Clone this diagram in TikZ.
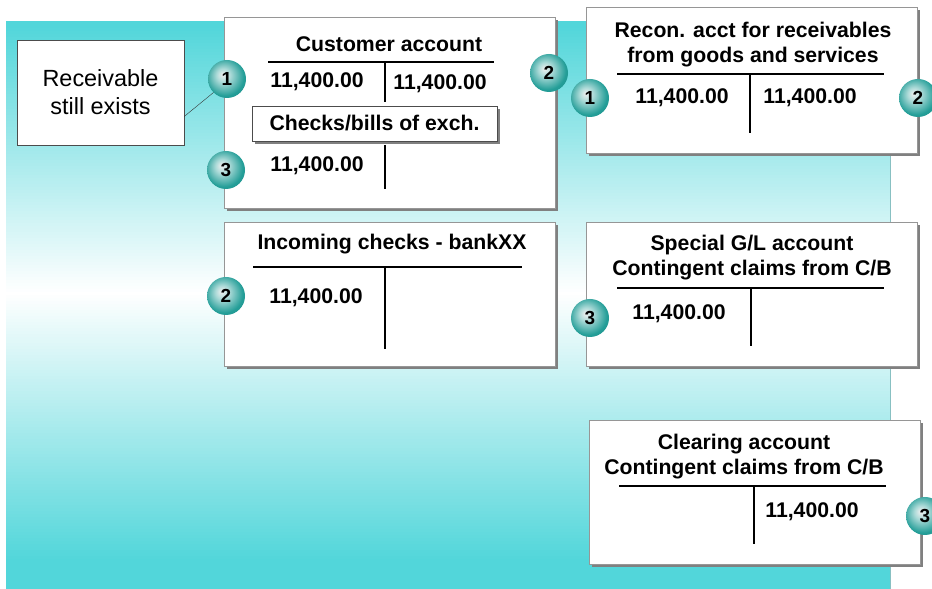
\documentclass[tikz,border=0pt]{standalone}
\usepackage{fontspec}
\setmainfont{Liberation Sans}
\usepackage{tikz}
\usetikzlibrary{shadows,               % ombres des comptes
           calc,                       % calculs de coordonnees
           positioning}
\definecolor{fondbleu}{RGB}{82,214,218}
\definecolor{billebleu}{RGB}{36,158,152}
\definecolor{bordgris}{RGB}{150,150,150}
\pgfdeclareradialshading{bille}{\pgfpoint{-6bp}{6bp}}{color(0bp)=(white!88!gray);
  color(9bp)=(white!62!billebleu);color(25bp)=(billebleu);color(40bp)=(billebleu!85!black);
  color(50bp)=(billebleu!65!black)}

\begin{document}
\begin{tikzpicture}[x=1bp,y=1bp,
  compte/.style={draw=bordgris,fill=white,anchor=north west,minimum width=331bp,
    drop shadow={shadow xshift=3bp,shadow yshift=-3bp,fill=black!50,opacity=1}},
  titre/.style={font=\fontsize{21.3}{25}\selectfont\bfseries,align=center},
  montant/.style={font=\fontsize{21.3}{25}\selectfont\bfseries},
  bille/.style={circle,minimum size=38bp,inner sep=0pt,shading=bille,
    font=\fontsize{19}{20}\selectfont\bfseries},
  trait/.style={line width=1.6bp}]
\useasboundingbox(0,0)rectangle(932,589);
% fond degrade, par bandes
\foreach \k in {0,...,188}{
  \pgfmathsetmacro\p{min(100,abs(3*\k+1.5-296)/2.67)}
  \fill[fondbleu!\p!white](6,3*\k)rectangle(890,3*\k+3.6);}
\draw[fondbleu!70!black!60](890,0)--(890,567);
% remarque
\node[draw=black!70,fill=white,minimum width=167bp,minimum height=105bp,align=center,
  font=\fontsize{23.5}{28}\selectfont](recv)at(100.5,496.5){Receivable\\still exists};
% comptes
\node[compte,minimum height=191bp](cust)at(224,572){};
\node[compte,minimum height=146bp](recon)at(586,582){};
\node[compte,minimum height=144bp](inc)at(224,367){};
\node[compte,minimum height=144bp](spec)at(586,367){};
\node[compte,minimum height=144bp](clear)at(589,169){};
% compte client
\node[titre](custT)at(389,545){Customer account};
\draw[trait](268,527)--(494,527)(385,527)--(385,487)(385,444)--(385,400);
\node[montant](custA)at(317,507){11,400.00};
\node[montant](custB)at(440,505){11,400.00};
\node[draw=black!70,fill=white,minimum width=245bp,minimum height=35bp,titre,
  drop shadow={shadow xshift=3bp,shadow yshift=-3bp,fill=black!50,opacity=1}]
  (cheq)at(374.5,465.5){Checks/bills of exch.};
\node[montant](custC)at(317,423){11,400.00};
% compte collectif
\node[titre](reconT)at(753,544.5){Recon. acct for receivables\\from goods and services};
\draw[trait](617,515)--(884,515)(750,515)--(750,456);
\node[montant](reconA)at(682,491){11,400.00};
\node[montant](reconB)at(810,491){11,400.00};
% cheques entrants
\node[titre](incT)at(392,345){Incoming checks - bankXX};
\draw[trait](253,322)--(522,322)(385,322)--(385,240);
\node[montant](incA)at(316,291){11,400.00};
% compte special
\node[titre](specT)at(752,331){Special G/L account\\Contingent claims from C/B};
\draw[trait](617,301)--(884,301)(751,301)--(751,243);
\node[montant](specA)at(679,275){11,400.00};
% compte de compensation
\node[titre](clearT)at(744,132){Clearing account\\Contingent claims from C/B};
\draw[trait](619,103)--(886,103)(754,103)--(754,45);
\node[montant](clearA)at(812,77){11,400.00};
% numeros
\node[bille](n1a)at(227,510){1};
\node[bille](n3a)at(226,419){3};
\node[bille](n2a)at(549,516){2};
\node[bille](n1b)at(590,491){1};
\node[bille](n2b)at(918,491){2};
\node[bille](n2c)at(226,293){2};
\node[bille](n3b)at(590,271){3};
\node[bille](n3c)at(925,73){3};
\draw[black!80](recv.-16)--(n1a.225);
\end{tikzpicture}
\end{document}
